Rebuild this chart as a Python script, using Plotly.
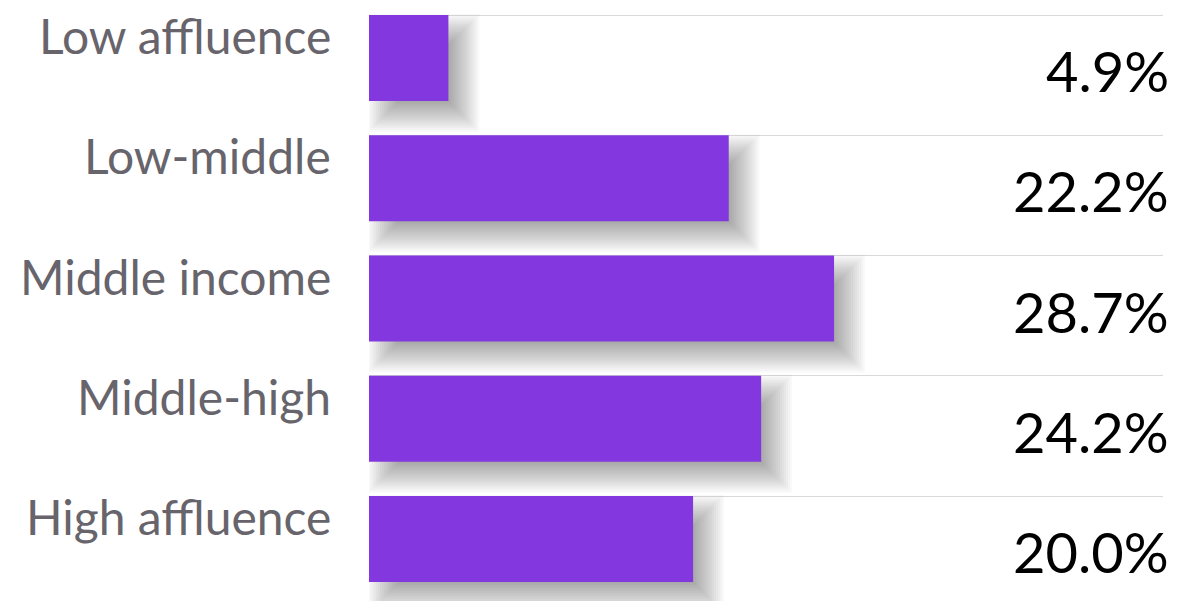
import plotly.graph_objects as go

categories = ["Low affluence", "Low-middle", "Middle income", "Middle-high", "High affluence"]
values = [4.9, 22.2, 28.7, 24.2, 20.0]
value_labels = ["4.9%", "22.2%", "28.7%", "24.2%", "20.0%"]

# page body has an 8px margin; compensate so the plot lands where intended
OFF = 8
W, H = 1179 - OFF, 601 - OFF
ML, MR = 369 - OFF, 16
X_MAX = 49.0
PX_X = (W - ML - MR) / X_MAX
ROW_PX = 120.25
TOP_PX = 15 - OFF
PX_Y = ROW_PX
y_top = -0.5 - TOP_PX / PX_Y
y_bot = y_top + H / PX_Y

BAR_W = 86 / ROW_PX
BAR_OFF = -0.5
BAR_COLOR = "#8338df"

ys = list(range(len(categories)))

fig = go.Figure()

# soft drop shadow built from stacked translucent bars
DX, DY = 15, 15
for e in range(-16, 17, 2):
    fig.add_trace(go.Bar(
        orientation="h",
        y=ys,
        x=[v + 2 * e / PX_X for v in values],
        base=(DX - e) / PX_X,
        offset=BAR_OFF + (DY - e) / PX_Y,
        width=BAR_W + 2 * e / PX_Y,
        marker=dict(color="rgba(0,0,0,0.024)", line=dict(width=0)),
        hoverinfo="skip",
        showlegend=False,
    ))

fig.add_trace(go.Bar(
    orientation="h",
    y=ys,
    x=values,
    offset=BAR_OFF,
    width=BAR_W,
    marker=dict(color=BAR_COLOR, line=dict(width=0)),
    showlegend=False,
))

annotations = []
for i, (c, lab) in enumerate(zip(categories, value_labels)):
    annotations.append(dict(
        x=0, y=i - 0.5, xref="x", yref="y",
        text=c, showarrow=False, xanchor="right", yanchor="top",
        xshift=-36, yshift=10,
        font=dict(family="Lato", size=48, color="#67646c"),
    ))
    annotations.append(dict(
        x=1, y=i - 0.5 + BAR_W, xref="paper", yref="y",
        text=lab, showarrow=False, xanchor="right", yanchor="bottom",
        xshift=8, yshift=-5,
        font=dict(family="Lato", size=56, color="#000000"),
    ))

fig.update_layout(
    width=W, height=H,
    margin=dict(l=ML, r=MR, t=0, b=0, pad=0),
    paper_bgcolor="white", plot_bgcolor="white",
    barmode="overlay",
    annotations=annotations,
    xaxis=dict(range=[0, X_MAX], showgrid=False, zeroline=False,
               showticklabels=False, showline=False, fixedrange=True),
    yaxis=dict(range=[y_bot, y_top], tickvals=[i - 0.5 for i in ys],
               showgrid=True, gridcolor="#d9d9d9", gridwidth=1.2,
               zeroline=False, showticklabels=False, showline=False, fixedrange=True),
)

fig.write_html("out.html")
